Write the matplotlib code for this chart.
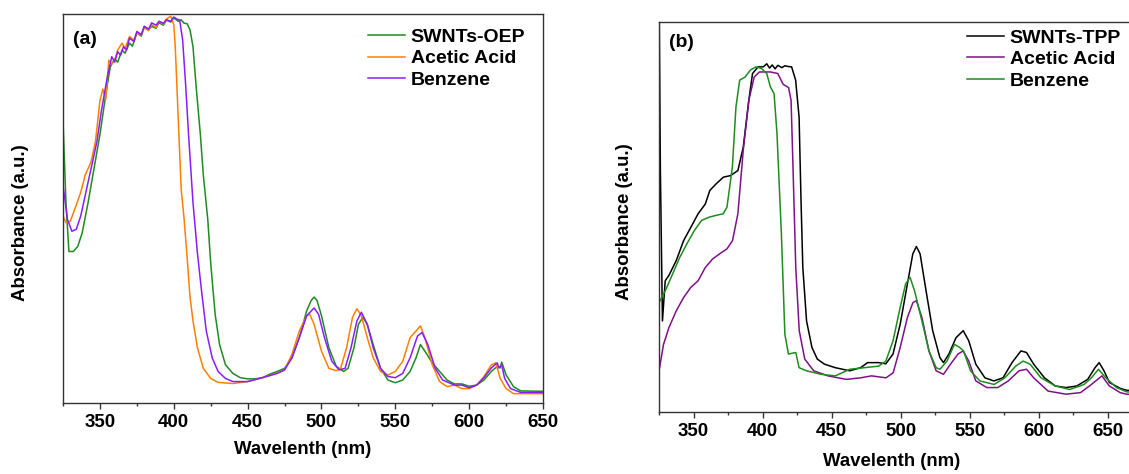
import matplotlib
matplotlib.use("Agg")
import matplotlib.pyplot as plt
from matplotlib.ticker import MultipleLocator

plt.rcParams['font.family'] = ['Liberation Sans', 'DejaVu Sans']
plt.rcParams['font.weight'] = 'bold'

# --- panel (a) data: wavelength (nm) / absorbance (a.u., 0-100 of axis height) ---
a_oep_x = [325, 327, 329, 332, 335, 338, 342, 346, 350, 354, 357, 360, 362, 365, 367, 370, 372,
           375, 378, 380, 383, 385, 388, 390, 393, 395, 398, 400, 403, 405, 407, 409, 411, 413,
           415, 418, 420, 423, 425, 428, 431, 435, 440, 445, 450, 455, 460, 465, 470, 475, 480,
           485, 490, 493, 495, 497, 500, 505, 510, 515, 518, 522, 525, 528, 531, 535, 540, 545,
           550, 555, 560, 564, 567, 570, 575, 580, 585, 590, 595, 600, 605, 610, 615, 619, 621,
           622, 625, 630, 635, 650]
a_oep_y = [72.4, 51.5, 38.9, 38.9, 40.2, 43.7, 51.5, 60.2, 68.9, 79.3, 86.3, 88.4, 87.5, 90.6, 89.8,
           92.4, 91.6, 95.0, 94.2, 96.7, 95.9, 96.7, 96.2, 97.6, 97.0, 98.3, 97.8, 98.9, 98.0, 98.4,
           97.5, 97.4, 95.8, 91.5, 81.9, 68.9, 58.5, 47.2, 35.9, 22.8, 15.0, 9.8, 7.6, 6.5, 6.2, 6.2,
           6.5, 7.4, 8.1, 8.9, 11.6, 16.8, 23.7, 26.3, 27.2, 26.3, 22.4, 14.2, 9.4, 8.1, 8.9, 14.2,
           20.2, 22.0, 20.2, 15.0, 8.9, 5.9, 5.2, 5.9, 8.1, 11.6, 15.0, 13.3, 10.3, 8.1, 5.9, 4.9,
           4.9, 4.3, 4.6, 5.9, 8.1, 9.4, 9.0, 10.5, 7.2, 4.2, 3.1, 3.0]

a_acetic_x = [325, 327, 330, 333, 337, 340, 344, 347, 350, 352, 354, 356, 358, 360, 362, 365, 367,
              370, 373, 375, 378, 380, 383, 385, 388, 390, 393, 395, 398, 400, 401, 403, 405, 407,
              409, 411, 413, 416, 420, 425, 430, 440, 450, 460, 470, 475, 480, 485, 490, 492, 495,
              500, 505, 510, 513, 517, 521, 524, 527, 531, 535, 540, 545, 550, 555, 560, 564, 567,
              570, 575, 580, 585, 590, 595, 600, 605, 610, 615, 618, 621, 625, 630, 650]
a_acetic_y = [48.0, 46.3, 46.7, 49.8, 54.1, 58.5, 61.9, 67.2, 77.6, 80.6, 78.0, 88.0, 87.0, 88.0, 90.6,
              92.4, 91.0, 94.1, 93.2, 95.0, 94.5, 96.3, 95.6, 97.1, 96.4, 98.0, 97.3, 98.6, 99.3, 97.1,
              91.5, 73.3, 55.0, 47.2, 37.6, 27.2, 21.1, 14.2, 8.9, 6.3, 5.3, 5.0, 5.5, 6.5, 7.6, 8.5,
              12.5, 18.5, 22.4, 22.8, 20.2, 13.3, 8.9, 8.3, 8.9, 14.2, 22.0, 24.2, 22.4, 16.8, 11.6,
              8.1, 7.2, 8.1, 10.7, 16.8, 18.5, 19.8, 16.8, 9.8, 5.5, 4.2, 4.6, 3.7, 3.7, 4.6, 6.8,
              9.8, 10.3, 6.3, 3.7, 2.4, 2.4]

a_benzene_x = [325, 328, 331, 334, 337, 341, 345, 348, 351, 355, 358, 360, 362, 364, 366, 368, 370,
               373, 375, 378, 380, 383, 385, 388, 390, 393, 395, 398, 400, 402, 404, 406, 408, 410,
               413, 416, 419, 422, 426, 430, 435, 440, 450, 460, 470, 475, 480, 485, 490, 495, 498,
               502, 507, 512, 516, 520, 524, 527, 531, 535, 540, 545, 550, 555, 560, 565, 568, 572,
               577, 582, 590, 595, 600, 605, 610, 615, 618, 619, 620, 622, 624, 628, 635, 650]
a_benzene_y = [55.9, 47.2, 44.1, 44.6, 48.0, 55.0, 61.9, 67.2, 75.0, 83.7, 88.9, 87.5, 90.2, 89.3,
               91.5, 90.6, 93.7, 92.8, 95.4, 94.6, 96.7, 96.0, 97.6, 97.0, 98.0, 97.5, 98.4, 98.0,
               99.1, 98.6, 98.3, 93.2, 81.9, 68.9, 51.5, 38.5, 28.1, 18.5, 11.6, 8.1, 6.3, 5.5, 5.5,
               6.5, 7.6, 8.5, 11.6, 16.8, 22.4, 24.4, 22.8, 16.8, 10.7, 8.5, 8.9, 14.2, 21.1, 23.3,
               20.2, 14.2, 8.9, 6.8, 6.5, 7.6, 11.6, 17.2, 18.1, 15.0, 8.9, 5.9, 4.6, 4.6, 3.9, 4.6,
               6.5, 9.0, 10.0, 10.3, 9.0, 9.8, 6.3, 3.7, 2.7, 2.7]

# --- panel (b) data ---
b_tpp_x = [325, 326, 327.5, 329.5, 332.2, 337.5, 342.8, 348, 353.3, 358.5, 361.8, 366.4, 371.6,
           376.8, 382.1, 386, 390, 392.7, 396.7, 400.5, 403, 405, 407, 409, 411, 414, 416, 418.5,
           421, 423.9, 426.4, 427.8, 429.1, 431.8, 435.7, 439.6, 444.8, 452.6, 463.1, 470.9, 476,
           484, 489.2, 494.4, 499.6, 504.8, 508.7, 511.3, 514, 517.9, 523.1, 528.3, 530.9, 534.8,
           540, 545.2, 549.2, 554.3, 560.9, 567.4, 574, 580.5, 587, 591, 596.2, 604, 611.9, 619.6,
           627.4, 635.3, 640.6, 643.6, 647.1, 651, 658.8, 663.5, 675]
b_tpp_y = [110, 62, 23.3, 33.6, 35.0, 38.8, 43.9, 47.3, 50.8, 53.3, 56.8, 58.5, 60.2, 60.6, 61.9,
           67.9, 79.9, 86.8, 88.5, 88.5, 89.3, 88.2, 89.0, 88.0, 88.9, 88.3, 88.8, 88.6, 88.5, 85.1,
           75.6, 54.2, 37.0, 23.3, 16.5, 13.5, 12.2, 11.3, 10.5, 11.3, 12.6, 12.6, 12.3, 14.8, 22.5,
           32.8, 40.5, 42.4, 40.5, 31.9, 20.8, 13.9, 12.6, 14.8, 19.0, 20.8, 18.2, 12.2, 8.7, 7.9,
           8.7, 12.6, 15.6, 15.2, 12.2, 8.7, 6.6, 6.2, 6.6, 8.3, 11.3, 12.6, 10.5, 7.5, 6.0, 5.5,
           5.3]

b_acetic_x = [325, 328.3, 332.2, 337.5, 342.8, 348, 353.3, 358.5, 363.8, 368.8, 374.2, 378.2,
              382.1, 386, 390, 393.9, 397.7, 405.7, 411, 414.9, 418.8, 420.6, 422, 424, 426.5,
              430.5, 437, 447.3, 460.6, 471, 478.8, 489.3, 494.5, 499.6, 504.8, 508.8, 511.3,
              515.3, 520.4, 525.6, 530.9, 536, 541.4, 545.2, 549.2, 554.3, 562.3, 570.2, 577.8,
              585.6, 591, 596.2, 606.6, 619.6, 630.1, 638, 645.6, 651, 658.8, 663.5, 675]
b_acetic_y = [10.5, 17.3, 21.6, 25.9, 29.3, 31.9, 33.6, 37.0, 39.2, 40.5, 41.8, 43.9, 50.8, 67.2,
              79.9, 85.9, 87.2, 87.2, 86.8, 84.0, 83.2, 79.9, 62.7, 37.0, 20.8, 13.5, 10.5, 9.2,
              8.3, 8.7, 9.2, 8.7, 10.0, 16.5, 24.2, 28.0, 28.5, 24.2, 15.6, 10.5, 9.6, 12.2, 14.8,
              15.6, 13.0, 7.9, 6.2, 6.2, 7.9, 10.5, 10.9, 8.7, 5.3, 4.5, 4.9, 7.0, 9.2, 6.6, 4.9,
              4.5, 4.3]

b_benzene_x = [325, 329.5, 334.8, 340, 345.2, 350.6, 355.8, 361, 366.3, 371.5, 374.2, 378.1,
               380.7, 383.4, 387.3, 391.2, 395.1, 399.1, 403, 405.6, 408.3, 410.4, 413.6, 416.1,
               418.7, 424, 426.4, 431.8, 442.3, 452.7, 463.1, 473.6, 484, 489.2, 494.4, 499.6,
               503.5, 506.7, 510, 515.3, 520.4, 525.6, 528.3, 533.5, 538.8, 542.6, 545.4, 550.5,
               557.2, 567.6, 575.3, 583.2, 588.5, 593.6, 601.5, 611.9, 622.3, 632.7, 638, 643.1,
               648.4, 656.2, 663.5, 675]
b_benzene_y = [28.0, 31.0, 35.3, 39.6, 43.1, 46.5, 49.1, 49.9, 50.4, 50.8, 52.5, 62.8, 78.2, 85.1,
               85.9, 87.7, 88.5, 88.1, 86.8, 83.4, 81.6, 71.4, 45.6, 19.9, 14.8, 15.2, 11.3, 10.5,
               9.6, 9.2, 10.9, 11.3, 11.7, 13.0, 18.2, 26.8, 32.8, 34.5, 31.0, 23.3, 15.6, 11.3,
               10.9, 13.0, 17.3, 16.5, 15.6, 10.5, 7.9, 7.0, 8.7, 11.7, 13.0, 12.2, 8.7, 6.6, 5.7,
               7.0, 8.7, 10.9, 8.7, 6.2, 5.1, 4.9]

fig = plt.figure(figsize=(11.29, 4.74), dpi=100)
ax1 = fig.add_axes([0.0558, 0.1498, 0.4252, 0.8217])
ax2 = fig.add_axes([0.5837, 0.1314, 0.4283, 0.822])

lw = 1.1
ax1.plot(a_oep_x, a_oep_y, color="#1e8c1e", lw=lw, label="SWNTs-OEP")
ax1.plot(a_acetic_x, a_acetic_y, color="#ff8000", lw=lw, label="Acetic Acid")
ax1.plot(a_benzene_x, a_benzene_y, color="#8a1cff", lw=lw, label="Benzene")

ax2.plot(b_tpp_x, b_tpp_y, color="#000000", lw=lw, label="SWNTs-TPP")
ax2.plot(b_acetic_x, b_acetic_y, color="#80108a", lw=lw, label="Acetic Acid")
ax2.plot(b_benzene_x, b_benzene_y, color="#1e8c1e", lw=lw, label="Benzene")

for ax, tag, xlim, tag_y, leg_x, leg_y in [(ax1, "(a)", (325, 650), 0.932, 0.635, 0.962),
                                           (ax2, "(b)", (325, 675), 0.948, 0.637, 0.982)]:
    ax.set_xlim(*xlim)
    ax.set_ylim(0, 100)
    ax.set_yticks([])
    ax.xaxis.set_major_locator(MultipleLocator(50))
    ax.xaxis.set_minor_locator(MultipleLocator(25))
    ax.tick_params(axis='x', which='major', direction='out', length=4, width=1, pad=4,
                   labelsize=13.5, colors='#333333', labelcolor='black')
    ax.tick_params(axis='x', which='minor', direction='out', length=2, width=1, colors='#333333')
    for s in ax.spines.values():
        s.set_color('#333333')
        s.set_linewidth(1)
    for lab in ax.get_xticklabels():
        lab.set_fontweight('bold')
    ax.text(0.02, tag_y, tag, transform=ax.transAxes,
            fontsize=14, fontweight='bold', va='center', ha='left')
    ax.legend(loc='upper left', bbox_to_anchor=(leg_x, leg_y), frameon=False,
              handlelength=1.9, handletextpad=0.3, labelspacing=0.2, borderpad=0,
              borderaxespad=0, prop={'weight': 'bold', 'size': 14})
    ax.set_xlabel("Wavelenth (nm)", fontsize=13.4, fontweight='bold')
    ax.set_ylabel("Absorbance (a.u.)", fontsize=13.4, fontweight='bold')

ax1.xaxis.set_label_coords(0.5, -0.098)
ax1.yaxis.set_label_coords(-0.071, 0.462)
ax2.xaxis.set_label_coords(0.482, -0.107)
ax2.yaxis.set_label_coords(-0.054, 0.489)

fig.savefig("out.png", dpi=100)
